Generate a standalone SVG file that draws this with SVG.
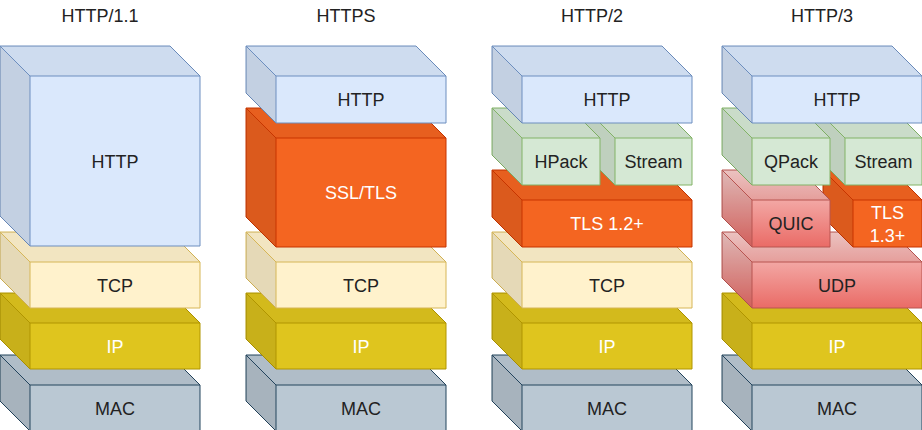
<svg xmlns="http://www.w3.org/2000/svg" width="922" height="430" viewBox="0 0 922 430">
<defs>
<linearGradient id="redGrad" x1="0" y1="0" x2="0" y2="1">
<stop offset="0" stop-color="#f8cecc"/>
<stop offset="1" stop-color="#ea6b66"/>
</linearGradient>
<style>
.t{fill:#000;fill-opacity:.05;stroke:none}
.l{fill:#000;fill-opacity:.1;stroke:none}
.e{fill:none}
.blue{fill:#dae8fc;stroke:#6c8ebf}
.cream{fill:#fff2cc;stroke:#d6b656}
.gold{fill:#dfc51e;stroke:#b09500}
.slate{fill:#bac8d3;stroke:#23445d}
.orange{fill:#f46521;stroke:#c73500}
.green{fill:#d5e8d4;stroke:#82b366}
.red{fill:url(#redGrad);stroke:#b85450}
g{stroke-width:1}
text{font-family:"Liberation Sans",Arial,sans-serif;font-size:18px;text-anchor:middle;stroke:none}
.lbl{fill:#222222}
.wl{fill:#ffffff}
.title{fill:#222222}
</style>
</defs>
<rect width="922" height="430" fill="#ffffff"/>

<g id="titles">
<text class="title" x="100" y="22">HTTP/1.1</text>
<text class="title" x="346" y="22">HTTPS</text>
<text class="title" x="592" y="22">HTTP/2</text>
<text class="title" x="822" y="22">HTTP/3</text>
</g>

<g id="connectors"></g>

<!-- Column 1: HTTP/1.1 -->
<g id="c1-mac" class="slate">
<path d="M0,355 H170 L200,385 V431 H30 L0,401 Z"/>
<path class="t" d="M0,355 H170 L200,385 H30 Z"/>
<path class="l" d="M0,355 L30,385 V431 L0,401 Z"/>
<path class="e" d="M30,431 V385 L0,355 M30,385 H200"/>
<text class="lbl" x="115" y="414.5">MAC</text>
</g>
<g id="c1-ip" class="gold">
<path d="M0,293 H170 L200,323 V369 H30 L0,339 Z"/>
<path class="t" d="M0,293 H170 L200,323 H30 Z"/>
<path class="l" d="M0,293 L30,323 V369 L0,339 Z"/>
<path class="e" d="M30,369 V323 L0,293 M30,323 H200"/>
<text class="wl" x="115" y="352.5">IP</text>
</g>
<g id="c1-tcp" class="cream">
<path d="M0,232 H170 L200,262 V308 H30 L0,278 Z"/>
<path class="t" d="M0,232 H170 L200,262 H30 Z"/>
<path class="l" d="M0,232 L30,262 V308 L0,278 Z"/>
<path class="e" d="M30,308 V262 L0,232 M30,262 H200"/>
<text class="lbl" x="115" y="291.5">TCP</text>
</g>
<g id="c1-http" class="blue">
<path d="M0,46 H170 L200,76 V246 H30 L0,216 Z"/>
<path class="t" d="M0,46 H170 L200,76 H30 Z"/>
<path class="l" d="M0,46 L30,76 V246 L0,216 Z"/>
<path class="e" d="M30,246 V76 L0,46 M30,76 H200"/>
<text class="lbl" x="115" y="167.5">HTTP</text>
</g>

<!-- Column 2: HTTPS -->
<g id="c2-mac" class="slate">
<path d="M246,355 H416 L446,385 V431 H276 L246,401 Z"/>
<path class="t" d="M246,355 H416 L446,385 H276 Z"/>
<path class="l" d="M246,355 L276,385 V431 L246,401 Z"/>
<path class="e" d="M276,431 V385 L246,355 M276,385 H446"/>
<text class="lbl" x="361" y="414.5">MAC</text>
</g>
<g id="c2-ip" class="gold">
<path d="M246,293 H416 L446,323 V369 H276 L246,339 Z"/>
<path class="t" d="M246,293 H416 L446,323 H276 Z"/>
<path class="l" d="M246,293 L276,323 V369 L246,339 Z"/>
<path class="e" d="M276,369 V323 L246,293 M276,323 H446"/>
<text class="wl" x="361" y="352.5">IP</text>
</g>
<g id="c2-tcp" class="cream">
<path d="M246,232 H416 L446,262 V308 H276 L246,278 Z"/>
<path class="t" d="M246,232 H416 L446,262 H276 Z"/>
<path class="l" d="M246,232 L276,262 V308 L246,278 Z"/>
<path class="e" d="M276,308 V262 L246,232 M276,262 H446"/>
<text class="lbl" x="361" y="291.5">TCP</text>
</g>
<g id="c2-ssltls" class="orange">
<path d="M246,108 H416 L446,138 V247 H276 L246,217 Z"/>
<path class="t" d="M246,108 H416 L446,138 H276 Z"/>
<path class="l" d="M246,108 L276,138 V247 L246,217 Z"/>
<path class="e" d="M276,247 V138 L246,108 M276,138 H446"/>
<text class="wl" x="361" y="199">SSL/TLS</text>
</g>
<g id="c2-http" class="blue">
<path d="M246,46 H416 L446,76 V123 H276 L246,93 Z"/>
<path class="t" d="M246,46 H416 L446,76 H276 Z"/>
<path class="l" d="M246,46 L276,76 V123 L246,93 Z"/>
<path class="e" d="M276,123 V76 L246,46 M276,76 H446"/>
<text class="lbl" x="361" y="106">HTTP</text>
</g>

<!-- Column 3: HTTP/2 -->
<g id="c3-mac" class="slate">
<path d="M492,355 H662 L692,385 V431 H522 L492,401 Z"/>
<path class="t" d="M492,355 H662 L692,385 H522 Z"/>
<path class="l" d="M492,355 L522,385 V431 L492,401 Z"/>
<path class="e" d="M522,431 V385 L492,355 M522,385 H692"/>
<text class="lbl" x="607" y="414.5">MAC</text>
</g>
<g id="c3-ip" class="gold">
<path d="M492,293 H662 L692,323 V369 H522 L492,339 Z"/>
<path class="t" d="M492,293 H662 L692,323 H522 Z"/>
<path class="l" d="M492,293 L522,323 V369 L492,339 Z"/>
<path class="e" d="M522,369 V323 L492,293 M522,323 H692"/>
<text class="wl" x="607" y="352.5">IP</text>
</g>
<g id="c3-tcp" class="cream">
<path d="M492,232 H662 L692,262 V308 H522 L492,278 Z"/>
<path class="t" d="M492,232 H662 L692,262 H522 Z"/>
<path class="l" d="M492,232 L522,262 V308 L492,278 Z"/>
<path class="e" d="M522,308 V262 L492,232 M522,262 H692"/>
<text class="lbl" x="607" y="291.5">TCP</text>
</g>
<g id="c3-tls12" class="orange">
<path d="M492,170 H662 L692,200 V247 H522 L492,217 Z"/>
<path class="t" d="M492,170 H662 L692,200 H522 Z"/>
<path class="l" d="M492,170 L522,200 V247 L492,217 Z"/>
<path class="e" d="M522,247 V200 L492,170 M522,200 H692"/>
<text class="wl" x="607" y="230">TLS 1.2+</text>
</g>
<g id="c3-stream" class="green">
<path d="M585,108 H662 L692,138 V185 H615 L585,155 Z"/>
<path class="t" d="M585,108 H662 L692,138 H615 Z"/>
<path class="l" d="M585,108 L615,138 V185 L585,155 Z"/>
<path class="e" d="M615,185 V138 L585,108 M615,138 H692"/>
<text class="lbl" x="653.5" y="168">Stream</text>
</g>
<g id="c3-hpack" class="green">
<path d="M492,108 H570 L600,138 V185 H522 L492,155 Z"/>
<path class="t" d="M492,108 H570 L600,138 H522 Z"/>
<path class="l" d="M492,108 L522,138 V185 L492,155 Z"/>
<path class="e" d="M522,185 V138 L492,108 M522,138 H600"/>
<text class="lbl" x="561" y="168">HPack</text>
</g>
<g id="c3-http" class="blue">
<path d="M492,46 H662 L692,76 V123 H522 L492,93 Z"/>
<path class="t" d="M492,46 H662 L692,76 H522 Z"/>
<path class="l" d="M492,46 L522,76 V123 L492,93 Z"/>
<path class="e" d="M522,123 V76 L492,46 M522,76 H692"/>
<text class="lbl" x="607" y="106">HTTP</text>
</g>

<!-- Column 4: HTTP/3 -->
<g id="c4-mac" class="slate">
<path d="M722,355 H892 L922,385 V431 H752 L722,401 Z"/>
<path class="t" d="M722,355 H892 L922,385 H752 Z"/>
<path class="l" d="M722,355 L752,385 V431 L722,401 Z"/>
<path class="e" d="M752,431 V385 L722,355 M752,385 H922"/>
<text class="lbl" x="837" y="414.5">MAC</text>
</g>
<g id="c4-ip" class="gold">
<path d="M722,293 H892 L922,323 V369 H752 L722,339 Z"/>
<path class="t" d="M722,293 H892 L922,323 H752 Z"/>
<path class="l" d="M722,293 L752,323 V369 L722,339 Z"/>
<path class="e" d="M752,369 V323 L722,293 M752,323 H922"/>
<text class="wl" x="837" y="352.5">IP</text>
</g>
<g id="c4-udp" class="red">
<path d="M722,232 H892 L922,262 V308 H752 L722,278 Z"/>
<path class="t" d="M722,232 H892 L922,262 H752 Z"/>
<path class="l" d="M722,232 L752,262 V308 L722,278 Z"/>
<path class="e" d="M752,308 V262 L722,232 M752,262 H922"/>
<text class="lbl" x="837" y="291.5">UDP</text>
</g>
<g id="c4-tls13" class="orange">
<path d="M823,170 H892 L922,200 V247 H853 L823,217 Z"/>
<path class="t" d="M823,170 H892 L922,200 H853 Z"/>
<path class="l" d="M823,170 L853,200 V247 L823,217 Z"/>
<path class="e" d="M853,247 V200 L823,170 M853,200 H922"/>
<text class="wl" x="887.5" y="219">TLS</text>
<text class="wl" x="887.5" y="242">1.3+</text>
</g>
<g id="c4-quic" class="red">
<path d="M722,170 H800 L830,200 V247 H752 L722,217 Z"/>
<path class="t" d="M722,170 H800 L830,200 H752 Z"/>
<path class="l" d="M722,170 L752,200 V247 L722,217 Z"/>
<path class="e" d="M752,247 V200 L722,170 M752,200 H830"/>
<text class="lbl" x="791" y="230">QUIC</text>
</g>
<g id="c4-stream" class="green">
<path d="M815,108 H892 L922,138 V185 H845 L815,155 Z"/>
<path class="t" d="M815,108 H892 L922,138 H845 Z"/>
<path class="l" d="M815,108 L845,138 V185 L815,155 Z"/>
<path class="e" d="M845,185 V138 L815,108 M845,138 H922"/>
<text class="lbl" x="883.5" y="168">Stream</text>
</g>
<g id="c4-qpack" class="green">
<path d="M722,108 H800 L830,138 V185 H752 L722,155 Z"/>
<path class="t" d="M722,108 H800 L830,138 H752 Z"/>
<path class="l" d="M722,108 L752,138 V185 L722,155 Z"/>
<path class="e" d="M752,185 V138 L722,108 M752,138 H830"/>
<text class="lbl" x="791" y="168">QPack</text>
</g>
<g id="c4-http" class="blue">
<path d="M722,46 H892 L922,76 V123 H752 L722,93 Z"/>
<path class="t" d="M722,46 H892 L922,76 H752 Z"/>
<path class="l" d="M722,46 L752,76 V123 L722,93 Z"/>
<path class="e" d="M752,123 V76 L722,46 M752,76 H922"/>
<text class="lbl" x="837" y="106">HTTP</text>
</g>
</svg>
